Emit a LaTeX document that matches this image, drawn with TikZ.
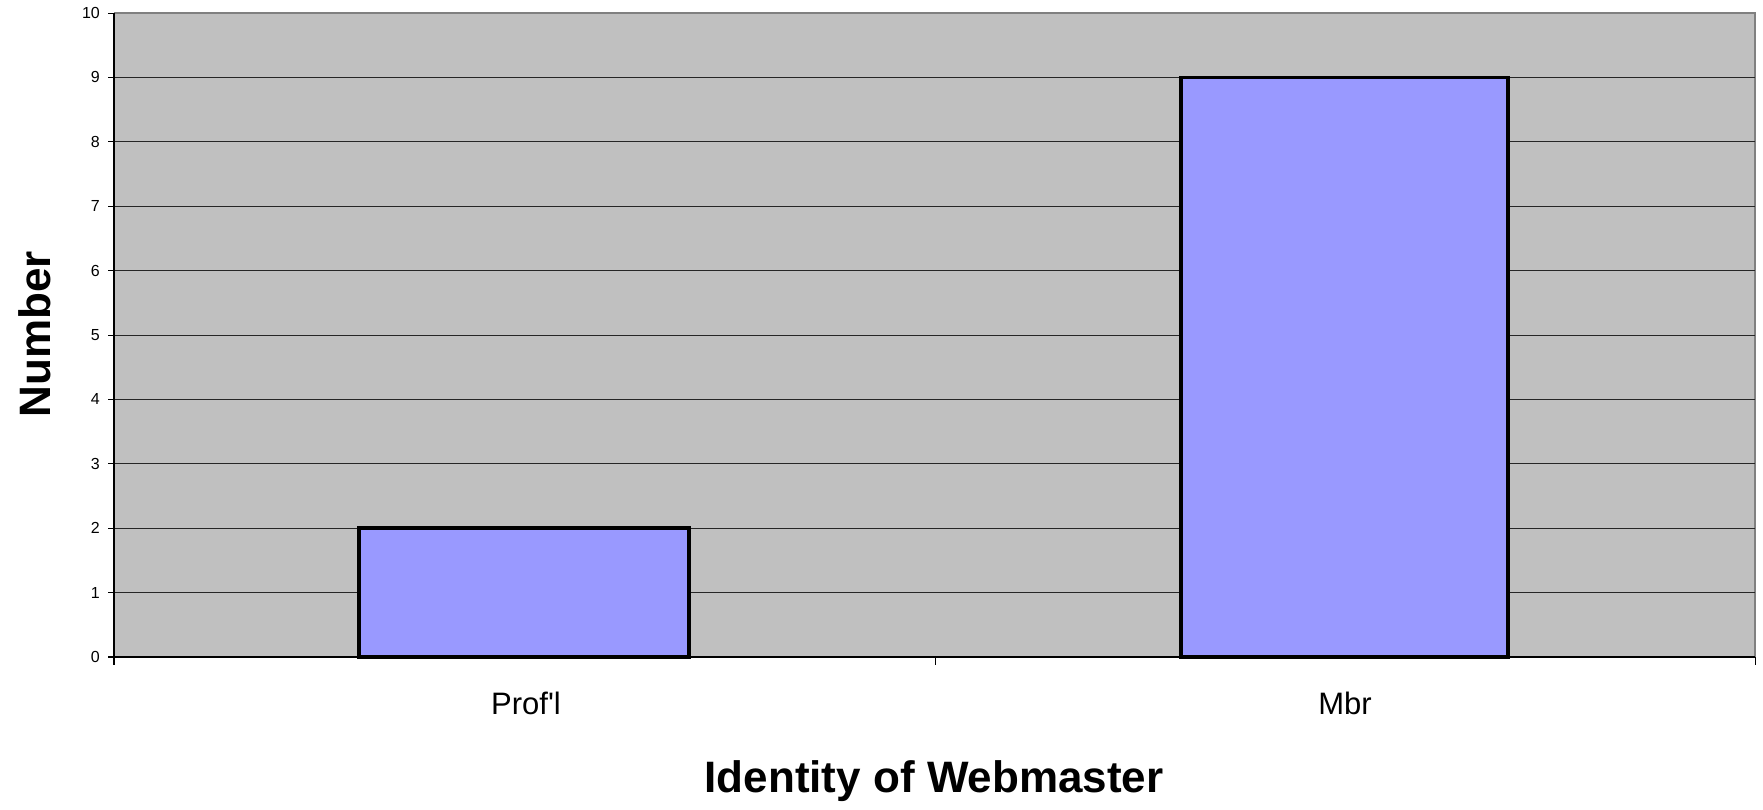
\documentclass[tikz,border=0pt]{standalone}
\usepackage{fontspec}
\setmainfont{Liberation Sans}
\newfontfamily\plainsans{Liberation Sans}[Ligatures=TeXOff]
\definecolor{plotbg}{HTML}{C0C0C0}
\definecolor{barfill}{HTML}{9999FF}
\definecolor{frameg}{HTML}{808080}
\begin{document}
\begin{tikzpicture}[x=1pt,y=-1pt,
  grid/.style={line width=1pt,black!85},
  bar/.style={fill=barfill,draw=black,line width=3.5pt},
  ylab/.style={anchor=east,font=\fontsize{16}{16}\selectfont,inner sep=0pt},
  xlab/.style={anchor=center,font=\plainsans\fontsize{31}{31}\selectfont,inner sep=0pt},
  title/.style={font=\fontsize{44}{44}\selectfont\bfseries,inner sep=0pt}]
\useasboundingbox (0,0) rectangle (1763,809);
% plot area
\fill[plotbg] (114,13) rectangle (1755,657);
\draw[frameg,line width=2pt] (114,13) -- (1755,13) -- (1755,657);
% gridlines
\foreach \i in {1,...,9} {
  \draw[grid] (114,{657-64.4*\i}) -- (1755,{657-64.4*\i});
}
% bars
\draw[bar] (359,{657-64.4*2}) rectangle (689,657);
\draw[bar] (1181,{657-64.4*9}) rectangle (1508,657);
% axes
\draw[black,line width=1.5pt] (114,13) -- (114,665);
\draw[black,line width=1.5pt] (108,657) -- (1755,657);
\foreach \i in {0,...,10} {
  \draw[black,line width=1pt] (108,{657-64.4*\i}) -- (114,{657-64.4*\i});
  \node[ylab] (yl\i) at (100,{657-64.4*\i}) {\i};
}
\foreach \x in {935,1755} {
  \draw[black,line width=1pt] (\x,657) -- (\x,665);
}
% category labels
\node[xlab] (prof) at (526,703) {Prof'l};
\node[xlab] (mbr) at (1345,703) {Mbr};
% axis titles
\node[title] (xt) at (934,781) {Identity of Webmaster};
\node[title,rotate=90] (yt) at (35,334) {Number};
\end{tikzpicture}
\end{document}
